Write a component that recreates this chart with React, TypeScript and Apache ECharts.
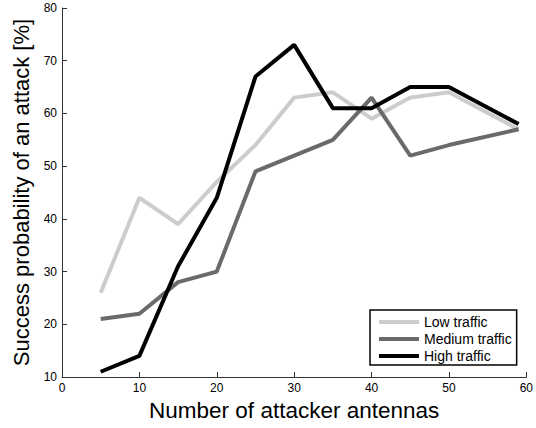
import React, { useEffect, useRef } from "react";
import * as echarts from "echarts";

const xValues = [5, 10, 15, 20, 25, 30, 35, 40, 45, 50, 59];
const lowTraffic = [26, 44, 39, 47, 54, 63, 64, 59, 63, 64, 57];
const mediumTraffic = [21, 22, 28, 30, 49, 52, 55, 63, 52, 54, 57];
const highTraffic = [11, 14, 31, 44, 67, 73, 61, 61, 65, 65, 58];
const seriesNames = ["Low traffic", "Medium traffic", "High traffic"];
const seriesColors = ["#cccccc", "#6a6a6a", "#000000"];

export default function App() {
  const ref = useRef<HTMLDivElement>(null);
  useEffect(() => {
    document.body.style.margin = "0";
    if (!ref.current) return;
    const chart = echarts.init(ref.current, undefined, { renderer: "svg" });
    const font = "Liberation Sans, Arial, Helvetica, sans-serif";
    const datasets = [lowTraffic, mediumTraffic, highTraffic];
    chart.setOption({
      animation: false,
      backgroundColor: "#ffffff",
      grid: { left: 62, right: 6, top: 8, bottom: 51 },
      legend: {
        orient: "vertical",
        left: 370,
        top: 310,
        data: seriesNames,
        backgroundColor: "#ffffff",
        borderColor: "#000000",
        borderWidth: 1.5,
        padding: [5, 5, 2, 9],
        itemWidth: 40,
        itemHeight: 4,
        itemGap: 3,
        icon: "rect",
        textStyle: { fontFamily: font, fontSize: 14, color: "#000" },
      },
      xAxis: {
        type: "value",
        min: 0,
        max: 60,
        interval: 10,
        name: "Number of attacker antennas",
        nameLocation: "middle",
        nameGap: 22,
        nameTextStyle: { fontFamily: font, fontSize: 22.5, color: "#000" },
        axisLine: { show: true, lineStyle: { color: "#333", width: 1 } },
        axisTick: { show: true, inside: true, length: 5, lineStyle: { color: "#333" } },
        axisLabel: { fontFamily: font, fontSize: 12, color: "#000", margin: 5 },
        splitLine: { show: false },
      },
      yAxis: {
        type: "value",
        min: 10,
        max: 80,
        interval: 10,
        name: "Success probability of an attack [%]",
        nameLocation: "middle",
        nameGap: 28,
        nameTextStyle: { fontFamily: font, fontSize: 22, color: "#000" },
        axisLine: { show: true, lineStyle: { color: "#333", width: 1 } },
        axisTick: { show: true, inside: true, length: 5, lineStyle: { color: "#333" } },
        axisLabel: { fontFamily: font, fontSize: 12, color: "#000", margin: 5 },
        splitLine: { show: false },
      },
      series: datasets.map((d, i) => ({
        name: seriesNames[i],
        type: "line",
        data: xValues.map((x, j) => [x, d[j]]),
        showSymbol: false,
        symbol: "none",
        color: seriesColors[i],
        lineStyle: { color: seriesColors[i], width: 4 },
        itemStyle: { color: seriesColors[i] },
        z: i + 2,
      })),
    });
    return () => chart.dispose();
  }, []);
  return <div ref={ref} style={{ width: 536, height: 428 }} />;
}
